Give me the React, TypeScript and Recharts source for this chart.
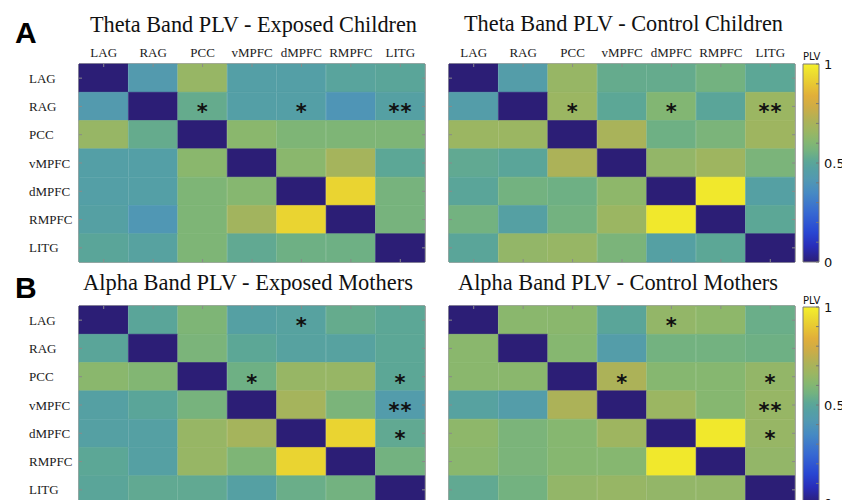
import React from 'react';
import { BarChart, Bar, XAxis, YAxis, Cell, LabelList, CartesianGrid } from 'recharts';

const regions = ['LAG', 'RAG', 'PCC', 'vMPFC', 'dMPFC', 'RMPFC', 'LITG'];

const thetaExposedChildren = [
  [0.0, 0.43, 0.65, 0.46, 0.46, 0.49, 0.5],
  [0.43, 0.0, 0.53, 0.46, 0.46, 0.4, 0.47],
  [0.65, 0.53, 0.0, 0.62, 0.59, 0.59, 0.59],
  [0.46, 0.46, 0.62, 0.0, 0.62, 0.69, 0.51],
  [0.46, 0.46, 0.59, 0.61, 0.0, 0.93, 0.57],
  [0.47, 0.41, 0.59, 0.68, 0.93, 0.0, 0.57],
  [0.5, 0.48, 0.59, 0.52, 0.55, 0.55, 0.0],
];
const thetaControlChildren = [
  [0.0, 0.45, 0.65, 0.53, 0.53, 0.56, 0.51],
  [0.45, 0.0, 0.66, 0.51, 0.6, 0.5, 0.66],
  [0.66, 0.66, 0.0, 0.7, 0.55, 0.58, 0.67],
  [0.52, 0.5, 0.71, 0.0, 0.64, 0.67, 0.58],
  [0.5, 0.56, 0.55, 0.63, 0.0, 0.98, 0.47],
  [0.56, 0.47, 0.56, 0.66, 0.98, 0.0, 0.51],
  [0.5, 0.64, 0.65, 0.58, 0.47, 0.51, 0.0],
];
const alphaExposedMothers = [
  [0.0, 0.5, 0.59, 0.47, 0.48, 0.53, 0.51],
  [0.5, 0.0, 0.58, 0.51, 0.48, 0.48, 0.51],
  [0.62, 0.6, 0.0, 0.55, 0.65, 0.65, 0.51],
  [0.47, 0.5, 0.57, 0.0, 0.69, 0.58, 0.44],
  [0.47, 0.47, 0.65, 0.69, 0.0, 0.93, 0.52],
  [0.51, 0.47, 0.65, 0.59, 0.93, 0.0, 0.56],
  [0.5, 0.52, 0.52, 0.47, 0.54, 0.56, 0.0],
];
const alphaControlMothers = [
  [0.0, 0.62, 0.62, 0.5, 0.64, 0.63, 0.54],
  [0.62, 0.0, 0.61, 0.45, 0.56, 0.56, 0.55],
  [0.62, 0.62, 0.0, 0.71, 0.61, 0.61, 0.64],
  [0.48, 0.45, 0.71, 0.0, 0.66, 0.61, 0.65],
  [0.63, 0.58, 0.61, 0.67, 0.0, 0.98, 0.65],
  [0.62, 0.58, 0.61, 0.61, 0.98, 0.0, 0.64],
  [0.52, 0.56, 0.64, 0.65, 0.64, 0.64, 0.0],
];

const thetaStars = [
  { row: 'RAG', col: 'PCC', mark: 1 },
  { row: 'RAG', col: 'dMPFC', mark: 1 },
  { row: 'RAG', col: 'LITG', mark: 2 },
];
const alphaStars = [
  { row: 'LAG', col: 'dMPFC', mark: 1 },
  { row: 'PCC', col: 'vMPFC', mark: 1 },
  { row: 'PCC', col: 'LITG', mark: 1 },
  { row: 'vMPFC', col: 'LITG', mark: 2 },
  { row: 'dMPFC', col: 'LITG', mark: 1 },
];

const colorbarTicks = [0, 0.1, 0.2, 0.3, 0.4, 0.5, 0.6, 0.7, 0.8, 0.9, 1];
const colorbarLabels = [0, 0.5, 1];

const cmapStops: [number, number, number, number][] = [
  [0.0, 44, 30, 118],
  [0.08, 40, 45, 185],
  [0.15, 40, 70, 210],
  [0.25, 55, 105, 210],
  [0.35, 70, 138, 195],
  [0.42, 82, 153, 177],
  [0.47, 85, 160, 163],
  [0.51, 92, 167, 150],
  [0.56, 115, 178, 128],
  [0.61, 134, 183, 112],
  [0.66, 155, 182, 98],
  [0.71, 172, 178, 88],
  [0.78, 205, 172, 70],
  [0.84, 225, 175, 58],
  [0.9, 232, 200, 50],
  [0.95, 236, 220, 48],
  [1.0, 245, 240, 42],
];

function cmap(v: number): string {
  const t = Math.max(0, Math.min(1, v));
  for (let k = 1; k < cmapStops.length; k++) {
    const a = cmapStops[k - 1];
    const b = cmapStops[k];
    if (t <= b[0]) {
      const f = (t - a[0]) / (b[0] - a[0]);
      const r = Math.round(a[1] + (b[1] - a[1]) * f);
      const g = Math.round(a[2] + (b[2] - a[2]) * f);
      const bl = Math.round(a[3] + (b[3] - a[3]) * f);
      return `rgb(${r},${g},${bl})`;
    }
  }
  return 'rgb(245,240,42)';
}

const SERIF = '"Liberation Serif", "Times New Roman", serif';
const SANS = '"Liberation Sans", Arial, sans-serif';
const AXIS_GRAY = '#8a8a8a';
const PLOT_W = 346;
const PLOT_H = 198;

const rowTicks = regions.map((_, i) => i + 0.5);

function ColTick(props: any) {
  const { x, y, payload, show } = props;
  return (
    <g>
      <line x1={x} x2={x} y1={y} y2={y + 3} stroke={AXIS_GRAY} />
      <line x1={x} x2={x} y1={y + PLOT_H} y2={y + PLOT_H - 3} stroke={AXIS_GRAY} />
      {show && (
        <text x={x} y={y - 7} textAnchor="middle" fontFamily={SERIF} fontSize={13} fill="#1a1a1a">
          {payload.value}
        </text>
      )}
    </g>
  );
}

function RowTick(props: any) {
  const { x, y, payload, show } = props;
  const label = regions[Math.floor(payload.value)];
  return (
    <g>
      <line x1={x} x2={x + 3} y1={y} y2={y} stroke={AXIS_GRAY} />
      <line x1={x + PLOT_W} x2={x + PLOT_W - 3} y1={y} y2={y} stroke={AXIS_GRAY} />
      {show && (
        <text x={x - 50} y={y} dy="0.35em" textAnchor="start" fontFamily={SERIF} fontSize={13} fill="#1a1a1a">
          {label}
        </text>
      )}
    </g>
  );
}

function Heatmap(props: any) {
  const { matrix, stars, left, top, width, height, margin, yWidth, showCols, showRows } = props;
  const data = regions.map((col) => {
    const d: any = { col };
    regions.forEach((_, i) => {
      d['r' + i] = 1;
    });
    return d;
  });
  const starAt = (i: number, j: number) => {
    const s = stars.find((st: any) => st.row === regions[i] && st.col === regions[j]);
    return s ? s.mark : 0;
  };
  return (
    <div style={{ position: 'absolute', left, top }}>
      <BarChart width={width} height={height} data={data} margin={margin} barCategoryGap={0} barGap={0}>
        <XAxis
          dataKey="col"
          type="category"
          orientation="top"
          height={20}
          axisLine={false}
          tickLine={false}
          tickSize={0}
          tickMargin={0}
          interval={0}
          tick={(p: any) => <ColTick {...p} show={showCols} />}
        />
        <YAxis
          type="number"
          domain={[0, 7]}
          reversed
          ticks={rowTicks}
          interval={0}
          width={yWidth}
          axisLine={false}
          tickLine={false}
          tickSize={0}
          tickMargin={0}
          tick={(p: any) => <RowTick {...p} show={showRows} />}
        />
        {regions.map((rowName, i) => (
          <Bar key={rowName} dataKey={'r' + i} stackId="m" isAnimationActive={false}>
            {regions.map((colName, j) => (
              <Cell key={colName} fill={cmap(matrix[i][j])} stroke={cmap(matrix[i][j])} strokeWidth={0.6} />
            ))}
            <LabelList
              dataKey={'r' + i}
              content={(p: any) => {
                const idx = p.index;
                const n = starAt(i, idx);
                if (!n) return null;
                const vb = p.viewBox || p;
                const cx = vb.x + vb.width / 2;
                const cy = vb.y + vb.height / 2;
                return (
                  <g>
                    {Array.from({ length: n }).map((_, k) => (
                      <text
                        key={k}
                        x={cx + (k - (n - 1) / 2) * 12}
                        y={cy + 13}
                        textAnchor="middle"
                        fontFamily='"DejaVu Sans", sans-serif'
                        fontWeight="bold"
                        fontSize={21}
                        fill="#111"
                      >
                        *
                      </text>
                    ))}
                  </g>
                );
              }}
            />
          </Bar>
        ))}
        <CartesianGrid
          stroke={AXIS_GRAY}
          strokeWidth={1.5}
          fill="none"
          horizontalCoordinatesGenerator={({ offset }: any) => [offset.top, offset.top + offset.height]}
          verticalCoordinatesGenerator={({ offset }: any) => [offset.left, offset.left + offset.width]}
        />
      </BarChart>
    </div>
  );
}

function CbTick(props: any) {
  const { x, y, payload } = props;
  const v = payload.value;
  const showLabel = colorbarLabels.some((l) => Math.abs(l - v) < 1e-6);
  return (
    <g>
      <line x1={x - 3} x2={x} y1={y} y2={y} stroke="#777" />
      {showLabel && (
        <text x={x + 5} y={y} dy="0.35em" textAnchor="start" fontFamily='"DejaVu Sans", sans-serif' fontSize={13} fill="#111">
          {String(v)}
        </text>
      )}
    </g>
  );
}

function Colorbar(props: any) {
  const { left, top, height, margin, id } = props;
  return (
    <div style={{ position: 'absolute', left, top }}>
      <BarChart width={47} height={height} data={[{ name: 'PLV', v: 1 }]} margin={margin} barCategoryGap={0}>
        <defs>
          <linearGradient id={id} x1="0" y1="1" x2="0" y2="0">
            {cmapStops.map((s) => (
              <stop key={s[0]} offset={`${s[0] * 100}%`} stopColor={`rgb(${s[1]},${s[2]},${s[3]})`} />
            ))}
          </linearGradient>
        </defs>
        <XAxis dataKey="name" hide />
        <YAxis
          type="number"
          orientation="right"
          domain={[0, 1]}
          ticks={colorbarTicks}
          interval={0}
          width={23}
          axisLine={false}
          tickLine={false}
          tickSize={0}
          tickMargin={0}
          tick={(p: any) => <CbTick {...p} />}
        />
        <Bar dataKey="v" fill={`url(#${id})`} stroke="#7a7a7a" strokeWidth={1} isAnimationActive={false} />
      </BarChart>
    </div>
  );
}

const titles = [
  { text: 'Theta Band PLV - Exposed Children', x: 90, y: 32, len: 327 },
  { text: 'Theta Band PLV - Control Children', x: 464, y: 31, len: 319 },
  { text: 'Alpha Band PLV - Exposed Mothers', x: 83, y: 290, len: 330 },
  { text: 'Alpha Band PLV - Control Mothers', x: 458, y: 290, len: 320 },
];

export default function App() {
  return (
    <div
      style={{
        position: 'absolute',
        left: 0,
        top: 0,
        width: 842,
        height: 500,
        overflow: 'hidden',
        background: '#fff',
      }}
    >
      <Heatmap
        matrix={thetaExposedChildren}
        stars={thetaStars}
        left={0}
        top={0}
        width={430}
        height={270}
        margin={{ top: 44, right: 5, bottom: 8, left: 29 }}
        yWidth={50}
        showCols
        showRows
      />
      <Heatmap
        matrix={thetaControlChildren}
        stars={thetaStars}
        left={430}
        top={0}
        width={370}
        height={270}
        margin={{ top: 44, right: 5, bottom: 8, left: 18 }}
        yWidth={1}
        showCols
        showRows={false}
      />
      <Heatmap
        matrix={alphaExposedMothers}
        stars={alphaStars}
        left={0}
        top={270}
        width={430}
        height={240}
        margin={{ top: 16, right: 5, bottom: 6, left: 29 }}
        yWidth={50}
        showCols={false}
        showRows
      />
      <Heatmap
        matrix={alphaControlMothers}
        stars={alphaStars}
        left={430}
        top={270}
        width={370}
        height={240}
        margin={{ top: 16, right: 5, bottom: 6, left: 18 }}
        yWidth={1}
        showCols={false}
        showRows={false}
      />
      <Colorbar id="cbTop" left={795} top={40} height={240} margin={{ top: 24, right: 0, bottom: 18, left: 8 }} />
      <Colorbar id="cbBottom" left={795} top={280} height={240} margin={{ top: 27, right: 0, bottom: 17, left: 8 }} />
      <svg
        width={842}
        height={500}
        style={{ position: 'absolute', left: 0, top: 0, pointerEvents: 'none' }}
      >
        {titles.map((t) => (
          <text
            key={t.text}
            x={t.x}
            y={t.y}
            textLength={t.len}
            lengthAdjust="spacingAndGlyphs"
            fontFamily={SERIF}
            fontSize={23}
            fill="#111"
          >
            {t.text}
          </text>
        ))}
        <text x={15} y={43} fontFamily={SANS} fontWeight="bold" fontSize={30} fill="#000">
          A
        </text>
        <text x={15} y={298} fontFamily={SANS} fontWeight="bold" fontSize={30} fill="#000">
          B
        </text>
        <text x={803} y={60} fontFamily='"DejaVu Sans", sans-serif' fontSize={10} fill="#111">
          PLV
        </text>
        <text x={803} y={304} fontFamily='"DejaVu Sans", sans-serif' fontSize={10} fill="#111">
          PLV
        </text>
      </svg>
    </div>
  );
}
